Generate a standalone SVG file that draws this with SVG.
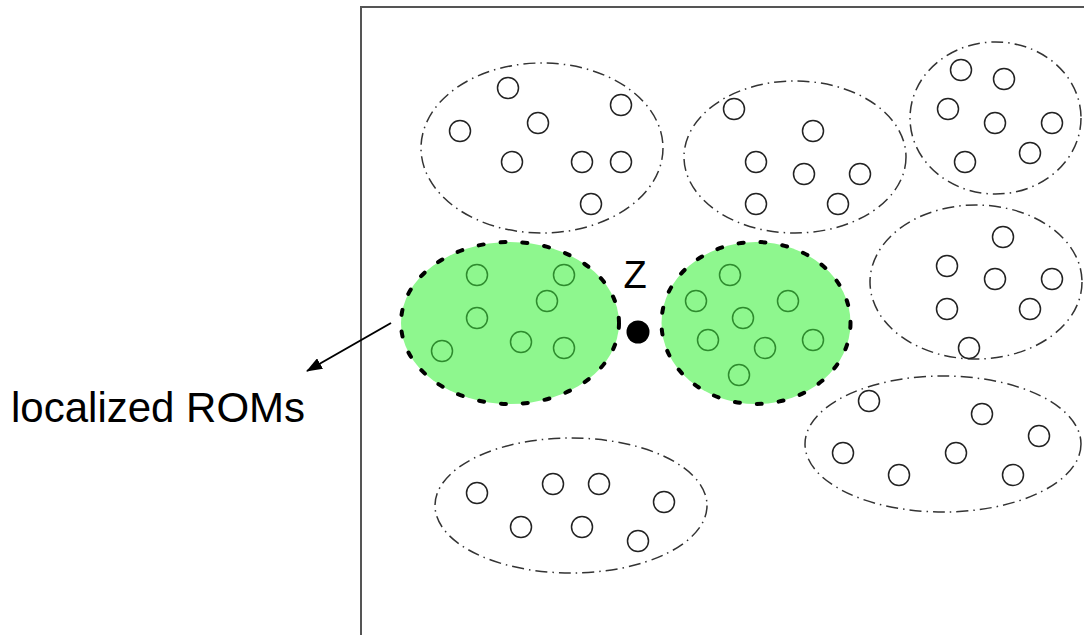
<svg xmlns="http://www.w3.org/2000/svg" width="1084" height="635" viewBox="0 0 1084 635">
<style>
.frame{fill:none;stroke:#555;stroke-width:2}
.clu{fill:none;stroke:#333;stroke-width:1.5;stroke-dasharray:12 5 1.5 5}
.loc{fill:#8ef78e;stroke:#000;stroke-width:4;stroke-dasharray:5 17;stroke-linecap:round}
.pt{fill:none;stroke:#222;stroke-width:1.5}
.gpt{fill:none;stroke:#2e8b2e;stroke-width:1.5}
.lbl{font-family:"Liberation Sans",Arial,sans-serif;fill:#000}
</style>
<defs>
<marker id="ah" viewBox="0 0 16 12" refX="15" refY="6" markerWidth="16" markerHeight="12" markerUnits="userSpaceOnUse" orient="auto">
<path d="M0,0 L16,6 L0,12 z" fill="#000"/>
</marker>
</defs>
<rect class="frame" x="361" y="7" width="800" height="700"/>
<g id="cluster1">
<ellipse class="clu" cx="542" cy="148" rx="121" ry="85"/>
<circle class="pt" cx="508" cy="88" r="10.5"/><circle class="pt" cx="621" cy="105" r="10.5"/><circle class="pt" cx="538" cy="123" r="10.5"/><circle class="pt" cx="460" cy="131" r="10.5"/><circle class="pt" cx="512" cy="162" r="10.5"/><circle class="pt" cx="582" cy="162" r="10.5"/><circle class="pt" cx="621" cy="162" r="10.5"/><circle class="pt" cx="591" cy="204" r="10.5"/>
</g>
<g id="cluster2">
<ellipse class="clu" cx="795" cy="157" rx="111" ry="76"/>
<circle class="pt" cx="734" cy="109" r="10.5"/><circle class="pt" cx="813" cy="131" r="10.5"/><circle class="pt" cx="756" cy="162" r="10.5"/><circle class="pt" cx="804" cy="174" r="10.5"/><circle class="pt" cx="860" cy="174" r="10.5"/><circle class="pt" cx="756" cy="204" r="10.5"/><circle class="pt" cx="838" cy="204" r="10.5"/>
</g>
<g id="cluster3">
<ellipse class="clu" cx="995.5" cy="118" rx="85.5" ry="76"/>
<circle class="pt" cx="961" cy="70" r="10.5"/><circle class="pt" cx="1004" cy="79" r="10.5"/><circle class="pt" cx="948" cy="109" r="10.5"/><circle class="pt" cx="995" cy="123" r="10.5"/><circle class="pt" cx="1052" cy="123" r="10.5"/><circle class="pt" cx="1030" cy="153" r="10.5"/><circle class="pt" cx="965" cy="162" r="10.5"/>
</g>
<g id="cluster4">
<ellipse class="clu" cx="976" cy="282" rx="106" ry="77"/>
<circle class="pt" cx="1003" cy="237" r="10.5"/><circle class="pt" cx="947" cy="266" r="10.5"/><circle class="pt" cx="995" cy="279" r="10.5"/><circle class="pt" cx="1052" cy="279" r="10.5"/><circle class="pt" cx="947" cy="309" r="10.5"/><circle class="pt" cx="1030" cy="309" r="10.5"/><circle class="pt" cx="969" cy="348" r="10.5"/>
</g>
<g id="cluster5">
<ellipse class="clu" cx="943" cy="444" rx="138" ry="68"/>
<circle class="pt" cx="869" cy="401" r="10.5"/><circle class="pt" cx="982" cy="414" r="10.5"/><circle class="pt" cx="1039" cy="436" r="10.5"/><circle class="pt" cx="843" cy="453" r="10.5"/><circle class="pt" cx="956" cy="453" r="10.5"/><circle class="pt" cx="899" cy="475" r="10.5"/><circle class="pt" cx="1013" cy="475" r="10.5"/>
</g>
<g id="cluster6">
<ellipse class="clu" cx="571" cy="505.5" rx="136" ry="67.5"/>
<circle class="pt" cx="477" cy="493" r="10.5"/><circle class="pt" cx="553" cy="484" r="10.5"/><circle class="pt" cx="599" cy="484" r="10.5"/><circle class="pt" cx="664" cy="502" r="10.5"/><circle class="pt" cx="521" cy="527" r="10.5"/><circle class="pt" cx="582" cy="527" r="10.5"/><circle class="pt" cx="638" cy="541" r="10.5"/>
</g>
<g id="localLeft">
<ellipse class="loc" cx="510" cy="323" rx="109" ry="81"/>
<circle class="gpt" cx="477" cy="275" r="10.5"/><circle class="gpt" cx="564" cy="275" r="10.5"/><circle class="gpt" cx="547" cy="301" r="10.5"/><circle class="gpt" cx="477" cy="318" r="10.5"/><circle class="gpt" cx="442" cy="351" r="10.5"/><circle class="gpt" cx="521" cy="342" r="10.5"/><circle class="gpt" cx="564" cy="348" r="10.5"/>
</g>
<g id="localRight">
<ellipse class="loc" cx="756" cy="323" rx="94.5" ry="81"/>
<circle class="gpt" cx="730" cy="275" r="10.5"/><circle class="gpt" cx="696" cy="301" r="10.5"/><circle class="gpt" cx="788" cy="301" r="10.5"/><circle class="gpt" cx="743" cy="318" r="10.5"/><circle class="gpt" cx="708" cy="340" r="10.5"/><circle class="gpt" cx="765" cy="348" r="10.5"/><circle class="gpt" cx="813" cy="340" r="10.5"/><circle class="gpt" cx="739" cy="375" r="10.5"/>
</g>
<g id="z">
<circle cx="638" cy="332" r="11.5" fill="#000"/>
<text class="lbl" x="635" y="288" font-size="38" text-anchor="middle">Z</text>
</g>
<g id="label">
<text class="lbl" x="11" y="422" font-size="42">localized ROMs</text>
</g>
<g id="connectors">
<line x1="391" y1="323" x2="307" y2="371" stroke="#000" stroke-width="2" marker-end="url(#ah)"/>
</g>
</svg>
